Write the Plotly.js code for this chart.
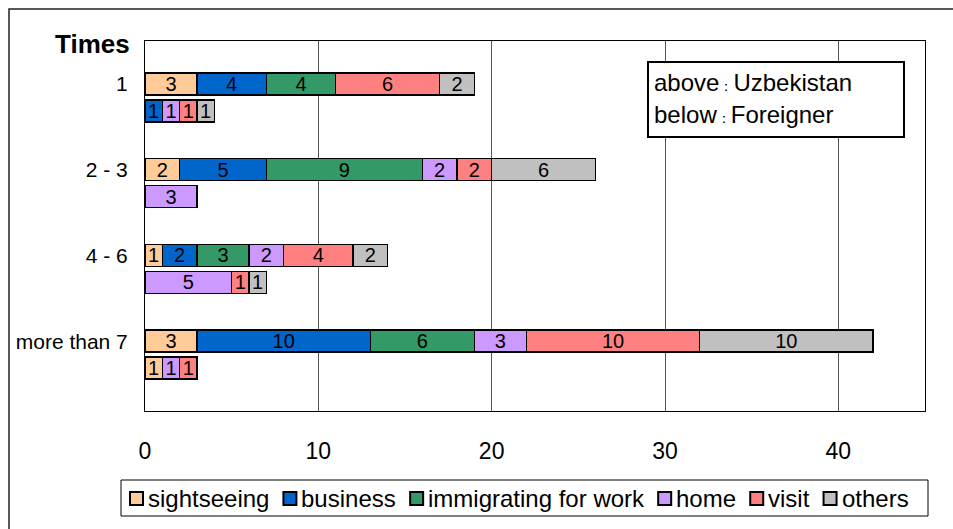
<!DOCTYPE html>
<html>
<head>
<meta charset="utf-8">
<script src="https://cdn.plot.ly/plotly-3.0.1.min.js"></script>
<style>
  html, body { margin: 0; padding: 0; background: #fff; }
  #chart { width: 953px; height: 529px; }
</style>
</head>
<body>
<div id="chart"></div>
<script>
// Visit frequency groups
const categories = ['1', '2 - 3', '4 - 6', 'more than 7'];
const purposes = ['sightseeing', 'business', 'immigrating for work', 'home', 'visit', 'others'];
const purposeColors = ['#FFCC99', '#0066CC', '#339966', '#CC99FF', '#FF8080', '#C0C0C0'];

// Upper bar of each group: Uzbekistan
const uzSightseeing = [3, 2, 1, 3];
const uzBusiness    = [4, 5, 2, 10];
const uzImmigrating = [4, 9, 3, 6];
const uzHome        = [0, 2, 2, 3];
const uzVisit       = [6, 2, 4, 10];
const uzOthers      = [2, 6, 2, 10];

// Lower bar of each group: Foreigner
const frSightseeing = [0, 0, 0, 1];
const frBusiness    = [1, 0, 0, 0];
const frImmigrating = [0, 0, 0, 0];
const frHome        = [1, 3, 5, 1];
const frVisit       = [1, 0, 1, 1];
const frOthers      = [1, 0, 1, 0];

const xTicks = [0, 10, 20, 30, 40];

const uzSeries = [uzSightseeing, uzBusiness, uzImmigrating, uzHome, uzVisit, uzOthers];
const frSeries = [frSightseeing, frBusiness, frImmigrating, frHome, frVisit, frOthers];

const lowerOffset = 0.314;   // vertical shift of the Foreigner bar within a group
const font = 'Arial, "Liberation Sans", sans-serif';

const traces = purposes.map((name, k) => {
  const xs = [], ys = [], txt = [];
  categories.forEach((c, i) => {
    const a = uzSeries[k][i], b = frSeries[k][i];
    xs.push(a || null); ys.push(i); txt.push(a ? String(a) : '');
    xs.push(b || null); ys.push(i + lowerOffset); txt.push(b ? String(b) : '');
  });
  return {
    type: 'bar',
    orientation: 'h',
    name: name,
    x: xs,
    y: ys,
    width: 0.256,
    text: txt,
    textposition: 'inside',
    insidetextanchor: 'middle',
    textangle: 0,
    constraintext: 'none',
    textfont: { family: font, size: 20, color: '#000' },
    marker: { color: purposeColors[k], line: { color: '#000', width: 1.5 } },
    hoverinfo: 'x+name'
  };
});

// plot area spans x 145..925, y 41..411 in pixels
const px = (x) => (x - 145) / 780;
const py = (y) => (411 - y) / 370;

const keyFont = { size: 24, family: font, color: '#000' };
const colon = '<span style="font-size:14px">：</span>';

const shapes = [
  // outer chart frame
  { type: 'rect', xref: 'paper', yref: 'paper',
    x0: px(9), x1: px(965), y0: py(545), y1: py(9),
    line: { color: '#222', width: 1.5 }, fillcolor: 'rgba(0,0,0,0)', layer: 'below' },
  // key box for upper/lower bars
  { type: 'rect', xref: 'paper', yref: 'paper',
    x0: px(648), x1: px(904), y0: py(137), y1: py(62),
    line: { color: '#000', width: 2 }, fillcolor: '#fff', layer: 'above' },
  // legend frame
  { type: 'rect', xref: 'paper', yref: 'paper',
    x0: px(121), x1: px(928), y0: py(516), y1: py(480),
    line: { color: '#000', width: 1 }, fillcolor: '#fff', layer: 'below' }
];

const annotations = [
  { xref: 'paper', yref: 'paper', x: px(132), y: py(44), xanchor: 'right', yanchor: 'middle',
    text: '<b>Times</b>', showarrow: false, font: { size: 26, family: font, color: '#000' } },
  { xref: 'paper', yref: 'paper', x: px(652), y: py(83), xanchor: 'left', yanchor: 'middle',
    text: 'above' + colon + 'Uzbekistan', showarrow: false, font: keyFont },
  { xref: 'paper', yref: 'paper', x: px(652), y: py(115), xanchor: 'left', yanchor: 'middle',
    text: 'below' + colon + 'Foreigner', showarrow: false, font: keyFont }
];

// compact one-row legend: swatch, label, then the next entry
const legendFontSize = 24;
const measure = document.createElement('canvas').getContext('2d');
measure.font = legendFontSize + 'px ' + font;
let cursor = 130;
purposes.forEach((name, k) => {
  shapes.push({ type: 'rect', xref: 'paper', yref: 'paper',
    x0: px(cursor), x1: px(cursor + 13), y0: py(505), y1: py(492),
    line: { color: '#000', width: 2 }, fillcolor: purposeColors[k] });
  annotations.push({ xref: 'paper', yref: 'paper', x: px(cursor + 16), y: py(498.5),
    xanchor: 'left', yanchor: 'middle', text: name, showarrow: false,
    font: { size: legendFontSize, family: font, color: '#000' } });
  cursor += 13 + 5 + measure.measureText(name).width + 14;
});

const layout = {
  width: 953,
  height: 529,
  margin: { l: 145, r: 28, t: 41, b: 118 },
  paper_bgcolor: '#fff',
  plot_bgcolor: '#fff',
  barmode: 'stack',
  bargap: 0,
  showlegend: false,
  font: { family: font, color: '#000' },
  xaxis: {
    range: [0, 45],
    tickvals: xTicks,
    ticktext: xTicks.map(String),
    ticks: '',
    ticklabelstandoff: 19,
    tickfont: { size: 23, family: font, color: '#000' },
    showgrid: true,
    gridcolor: '#555',
    gridwidth: 1,
    zeroline: false,
    showline: true,
    linecolor: '#000',
    linewidth: 1,
    mirror: true,
    fixedrange: true
  },
  yaxis: {
    range: [3 + lowerOffset + 0.5, -0.5],
    tickvals: categories.map((c, i) => i),
    ticktext: categories,
    ticks: '',
    ticklabelstandoff: 12,
    tickfont: { size: 21, family: font, color: '#000' },
    showgrid: false,
    zeroline: false,
    showline: true,
    linecolor: '#000',
    linewidth: 1,
    mirror: true,
    fixedrange: true
  },
  shapes: shapes,
  annotations: annotations
};

Plotly.newPlot('chart', traces, layout, { displayModeBar: false, staticPlot: true });
</script>
</body>
</html>
